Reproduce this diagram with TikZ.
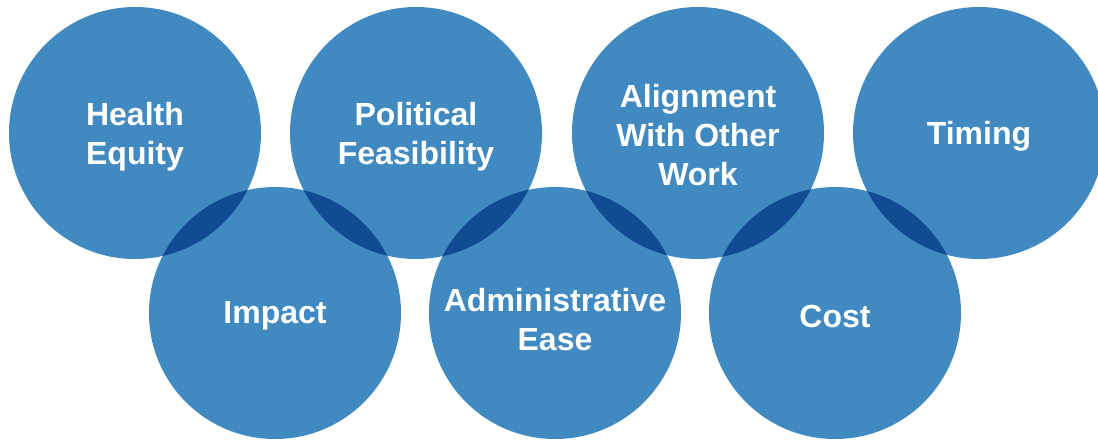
\documentclass[tikz,border=0pt]{standalone}
\usepackage{fontspec}
\setmainfont{Liberation Sans}
\usepackage{tikz}
\usetikzlibrary{positioning}
\definecolor{bubble}{RGB}{65,137,193}
\definecolor{lens}{RGB}{16,75,148}
\tikzset{
	crit/.style={circle, fill=bubble, minimum size=252pt, inner sep=0pt},
	critlabel/.style={text=white, align=center, inner sep=0pt,
		font=\fontsize{32}{39}\selectfont\bfseries},
	overlap/.style={fill=lens}
}

\begin{document}
\begin{tikzpicture}[x=1pt, y=-1pt]
	\useasboundingbox (0,0) rectangle (1098,440);
	
	% top row
	\node[crit] (he) at (135,133) {};
	\node[crit] (pf) at (416,133) {};
	\node[crit] (aw) at (698,133) {};
	\node[crit] (ti) at (979,133) {};
	
	% bottom row
	\node[crit] (im) at (275,313) {};
	\node[crit] (ae) at (555,313) {};
	\node[crit] (co) at (835,313) {};
	
	% darker where two circles meet
	\foreach \a/\b in {he/im, pf/im, pf/ae, aw/ae, aw/co, ti/co} {
		\begin{scope}
			\clip (\a.center) circle[radius=126pt];
			\fill[overlap] (\b.center) circle[radius=126pt];
		\end{scope}
	}
	
	\node[critlabel, yshift=-4pt] (helabel) at (he) {Health\\Equity};
	\node[critlabel, yshift=-4pt] (pflabel) at (pf) {Political\\Feasibility};
	\node[critlabel, yshift=-2pt] (awlabel) at (aw) {Alignment\\With Other\\Work};
	\node[critlabel, yshift=-3pt] (tilabel) at (ti) {Timing};
	\node[critlabel, yshift=-3pt] (imlabel) at (im) {Impact};
	\node[critlabel, yshift=-7pt] (aelabel) at (ae) {Administrative\\Ease};
	\node[critlabel, yshift=-3pt] (colabel) at (co) {Cost};
	
\end{tikzpicture}
\end{document}
